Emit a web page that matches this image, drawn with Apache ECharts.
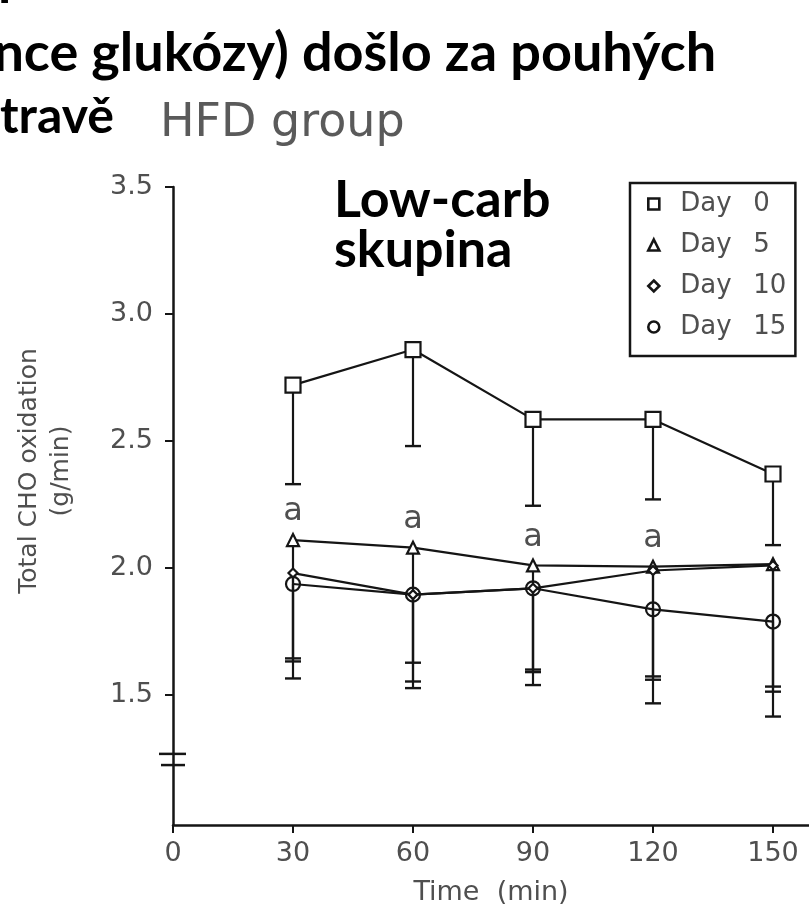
<!DOCTYPE html>
<html><head><meta charset="utf-8">
<script src="https://cdn.jsdelivr.net/npm/echarts@6/dist/echarts.min.js"></script>
<style>html,body{margin:0;padding:0;background:#fff}#c{width:809px;height:915px}</style>
</head><body><div id="c"></div>
<script>
// ---- data ----
const times = [30, 60, 90, 120, 150];
const xTickValues = [0, 30, 60, 90, 120, 150];
const yTickValues = [1.5, 2.0, 2.5, 3.0, 3.5];
const seriesNames = ['Day 0', 'Day 5', 'Day 10', 'Day 15'];
const day0Mean = [2.72, 2.86, 2.585, 2.585, 2.37];
const day0Low  = [2.33, 2.48, 2.245, 2.27, 2.09];
const day5Mean = [2.11, 2.08, 2.01, 2.005, 2.015];
const day5Low  = [1.565, 1.527, 1.539, 1.56, 1.513];
const day10Mean = [1.98, 1.895, 1.92, 1.99, 2.01];
const day10Low  = [1.644, 1.553, 1.60, 1.573, 1.533];
const day15Mean = [1.937, 1.895, 1.92, 1.837, 1.789];
const day15Low  = [1.632, 1.627, 1.59, 1.467, 1.415];
const day5Sig = ['a', 'a', 'a', 'a', ''];
const yAxisName = 'Total CHO oxidation\n(g/min)';
const xAxisName = 'Time  (min)';
const titleLine1 = 'p';
const titleLine2 = 'ance glukózy) došlo za pouhých';
const titleLine3 = 'travě';
const groupLabel = 'HFD group';
const overlayLine1 = 'Low-carb';
const overlayLine2 = 'skupina';

// ---- styles ----
const plotFont = "'DejaVu Sans', 'Liberation Sans', sans-serif";
const boldFont = "Lato, 'Open Sans', sans-serif";
const ink = '#151515';
const grey = '#4f4f4f';

const means = [day0Mean, day5Mean, day10Mean, day15Mean];
const lows = [day0Low, day5Low, day10Low, day15Low];
const symbols = ['rect', 'triangle', 'diamond', 'circle'];
const symSizes = [15, 12, 9, 14];
const fills = ['#fff', '#fff', '#fff', 'rgba(0,0,0,0)'];

const chart = echarts.init(document.getElementById('c'), null, {renderer: 'canvas'});

const series = [];
// error bars
means.forEach((m, i) => {
  series.push({
    type: 'custom', name: seriesNames[i] + ' err', z: 2, silent: true,
    data: times.map((t, k) => [t, m[k], lows[i][k]]),
    encode: {x: 0, y: [1, 2]},
    renderItem(params, api) {
      const x = api.value(0), mv = api.value(1), lo = api.value(2);
      const p1 = api.coord([x, mv]), p2 = api.coord([x, lo]);
      const hw = 8;
      return {type: 'group', children: [
        {type: 'line', shape: {x1: p1[0], y1: p1[1], x2: p2[0], y2: p2[1]}, style: {stroke: ink, lineWidth: 2.2}},
        {type: 'line', shape: {x1: p2[0] - hw, y1: p2[1], x2: p2[0] + hw, y2: p2[1]}, style: {stroke: ink, lineWidth: 2.4}}
      ]};
    }
  });
});
// connecting lines
means.forEach((m, i) => {
  series.push({
    type: 'line', name: seriesNames[i] + ' line', z: 3, silent: true,
    data: times.map((t, k) => [t, m[k]]),
    symbol: 'none', lineStyle: {color: ink, width: 2.2}
  });
});
// markers
means.forEach((m, i) => {
  series.push({
    type: 'scatter', name: seriesNames[i], z: 5, silent: true,
    data: times.map((t, k) => {
      const item = {value: [t, m[k]]};
      if (i === 1 && day5Sig[k]) {
        item.label = {show: true, formatter: day5Sig[k], position: 'top', distance: 5,
          color: grey, fontFamily: plotFont, fontSize: 32};
      }
      return item;
    }),
    symbol: symbols[i], symbolSize: symSizes[i],
    itemStyle: {color: fills[i], borderColor: ink, borderWidth: 2.2, opacity: 1}
  });
});

chart.setOption({
  animation: false,
  backgroundColor: '#fff',
  grid: {left: 173, right: 0, top: 187, bottom: 90, containLabel: false},
  xAxis: {
    type: 'value', min: 0, max: 159,
    name: xAxisName, nameLocation: 'middle', nameGap: 54,
    nameTextStyle: {color: grey, fontFamily: plotFont, fontSize: 27},
    axisLine: {show: true, lineStyle: {color: ink, width: 2.5}},
    axisTick: {show: true, length: 8, inside: false, lineStyle: {color: ink, width: 2}, customValues: xTickValues},
    axisLabel: {color: grey, fontFamily: plotFont, fontSize: 27, margin: 15, customValues: xTickValues},
    splitLine: {show: false}
  },
  yAxis: {
    type: 'value', min: 0.988, max: 3.5,
    name: yAxisName, nameLocation: 'middle', nameGap: 96, nameRotate: 90,
    nameTextStyle: {color: grey, fontFamily: plotFont, fontSize: 25, lineHeight: 32, align: 'center',
      padding: [0, 0, 0, 70]},
    axisLine: {show: true, onZero: false, lineStyle: {color: ink, width: 2.5}},
    axisTick: {show: true, length: 8, lineStyle: {color: ink, width: 2}, customValues: yTickValues},
    axisLabel: {color: grey, fontFamily: plotFont, fontSize: 27, margin: 20, customValues: yTickValues,
      formatter: v => v.toFixed(1)},
    splitLine: {show: false}
  },
  legend: {
    orient: 'vertical', left: 630, top: 183,
    data: seriesNames.map(n => ({name: n, itemStyle: {borderWidth: 2.6}})),
    selectedMode: false,
    itemWidth: 11, itemHeight: 11, itemGap: 11,
    padding: [6, 9, 14, 17],
    borderColor: ink, borderWidth: 2.5, backgroundColor: '#fff',
    formatter: n => { const p = n.split(' '); return '{a|' + p[0] + '}{b|' + p[1] + '}'; },
    textStyle: {color: grey, fontFamily: plotFont, fontSize: 26, lineHeight: 30, padding: [0, 0, 0, 16],
      rich: {
        a: {width: 73, color: grey, fontFamily: plotFont, fontSize: 26, lineHeight: 30},
        b: {width: 32, color: grey, fontFamily: plotFont, fontSize: 26, lineHeight: 30}
      }}
  },
  series: series
});

// decorations: axis break marks and overlay texts
const brkA = chart.convertToPixel({gridIndex: 0}, [0, 1.268]);
const brkB = chart.convertToPixel({gridIndex: 0}, [0, 1.224]);
chart.setOption({
  graphic: [
    {type: 'line', z: 10, shape: {x1: brkA[0] - 14, y1: brkA[1], x2: brkA[0] + 13, y2: brkA[1]}, style: {stroke: ink, lineWidth: 2.5}},
    {type: 'line', z: 10, shape: {x1: brkB[0] - 12, y1: brkB[1], x2: brkB[0] + 12, y2: brkB[1]}, style: {stroke: ink, lineWidth: 2.5}},
    {type: 'text', z: 20, left: -2, top: -50, style: {text: titleLine1, fill: '#000', font: 'bold 54px ' + boldFont}},
    {type: 'text', z: 20, left: -34, top: 27, style: {text: titleLine2, fill: '#000', font: 'bold 54px ' + boldFont}},
    {type: 'text', z: 20, left: 0, top: 92, style: {text: titleLine3, fill: '#000', font: 'bold 50px ' + boldFont}},
    {type: 'text', z: 20, left: 160, top: 101, style: {text: groupLabel, fill: '#5a5a5a', font: '46px ' + plotFont}},
    {type: 'text', z: 20, left: 334, top: 174, style: {text: overlayLine1, fill: '#000', font: 'bold 52px ' + boldFont}},
    {type: 'text', z: 20, left: 334, top: 224, style: {text: overlayLine2, fill: '#000', font: 'bold 52px ' + boldFont}}
  ]
});
</script>
</body></html>
